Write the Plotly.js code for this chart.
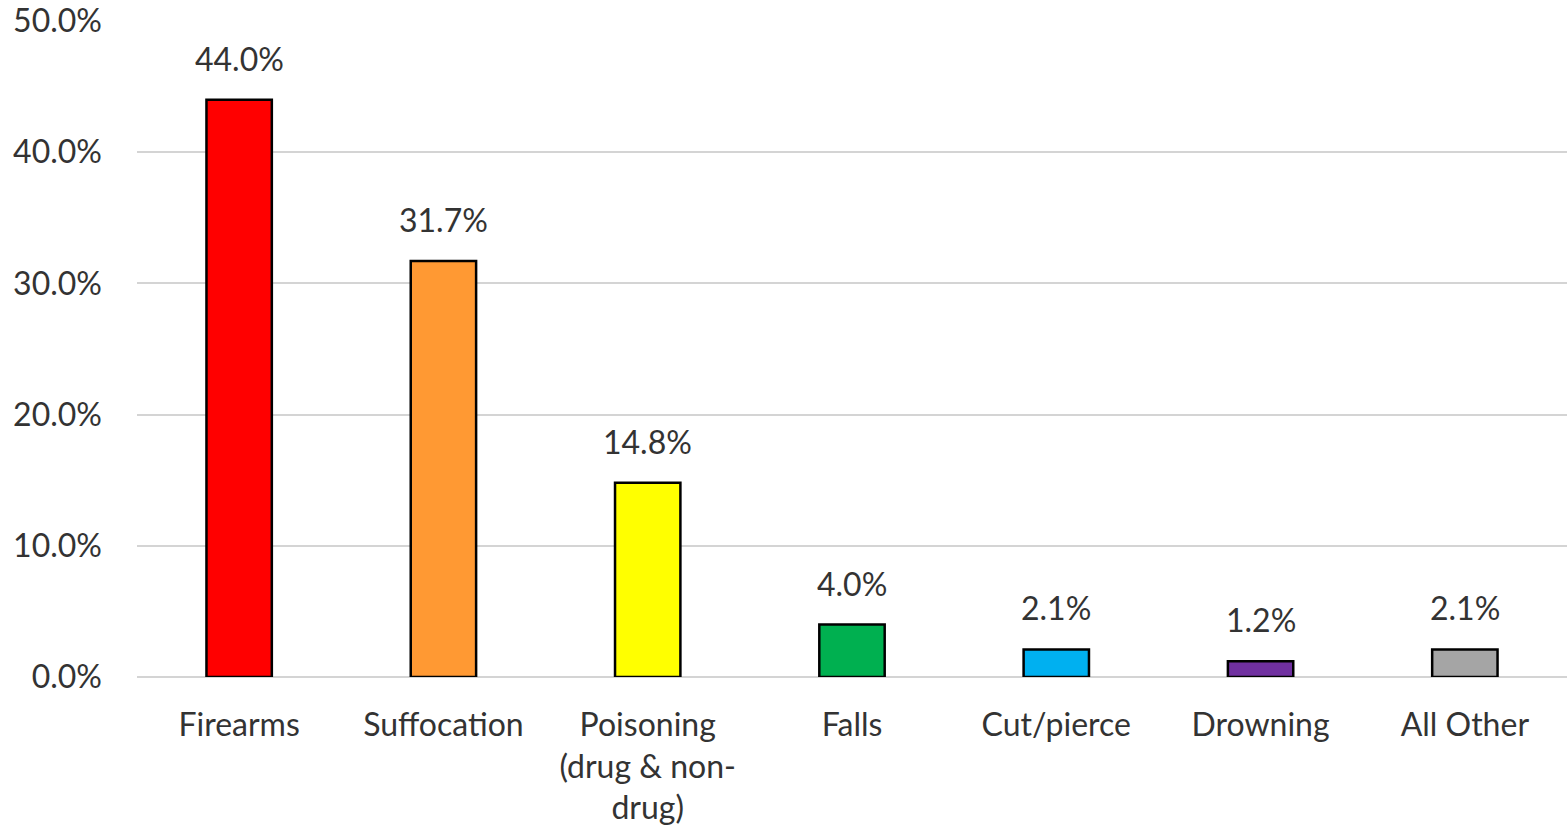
<!DOCTYPE html>
<html>
<head>
<meta charset="utf-8">
<script src="https://cdn.plot.ly/plotly-3.0.1.min.js"></script>
<style>
  html, body { margin: 0; padding: 0; background: #fff; }
  #chart { width: 1567px; height: 832px; }
</style>
</head>
<body>
<div id="chart"></div>
<script>
// Injury deaths by mechanism, share of total (%)
const categories = [
  'Firearms',
  'Suffocation',
  'Poisoning<br>(drug & non-<br>drug)',
  'Falls',
  'Cut/pierce',
  'Drowning',
  'All Other'
];
const shares = [44.0, 31.7, 14.8, 4.0, 2.1, 1.2, 2.1];
const barColors = ['#FF0000', '#FF9933', '#FFFF00', '#00B050', '#00B0F0', '#7030A0', '#A5A5A5'];
const yTicks = [0, 10, 20, 30, 40, 50];
const yTickLabels = ['0.0%', '10.0%', '20.0%', '30.0%', '40.0%', '50.0%'];

const textColor = '#333333';
const fontFamily = 'Lato, "Open Sans", sans-serif';
const fontSize = 32;

const bars = {
  type: 'bar',
  x: categories,
  y: shares,
  width: 0.32,
  marker: {
    color: barColors,
    line: { color: '#000000', width: 2.5 }
  },
  hoverinfo: 'x+y'
};

const valueLabels = categories.map((c, i) => ({
  x: c,
  y: shares[i],
  text: shares[i].toFixed(1) + '%',
  showarrow: false,
  xanchor: 'center',
  yanchor: 'bottom',
  yshift: 20,
  font: { family: fontFamily, size: fontSize, color: textColor }
}));

const layout = {
  width: 1567,
  height: 832,
  margin: { l: 137, r: 0, t: 21, b: 155 },
  paper_bgcolor: '#ffffff',
  plot_bgcolor: '#ffffff',
  showlegend: false,
  font: { family: fontFamily, size: fontSize, color: textColor },
  xaxis: {
    type: 'category',
    showgrid: false,
    zeroline: false,
    showline: false,
    ticks: '',
    ticklabelstandoff: 26,
    tickfont: { family: fontFamily, size: fontSize, color: textColor }
  },
  yaxis: {
    range: [0, 50],
    tickvals: yTicks,
    ticktext: yTickLabels,
    showgrid: true,
    gridcolor: '#d4d4d4',
    gridwidth: 2,
    zeroline: true,
    zerolinecolor: '#d4d4d4',
    zerolinewidth: 2,
    showline: false,
    ticks: '',
    ticklabelstandoff: 34,
    tickfont: { family: fontFamily, size: fontSize, color: textColor }
  },
  annotations: valueLabels
};

Plotly.newPlot('chart', [bars], layout, { displayModeBar: false, staticPlot: true });
</script>
</body>
</html>
